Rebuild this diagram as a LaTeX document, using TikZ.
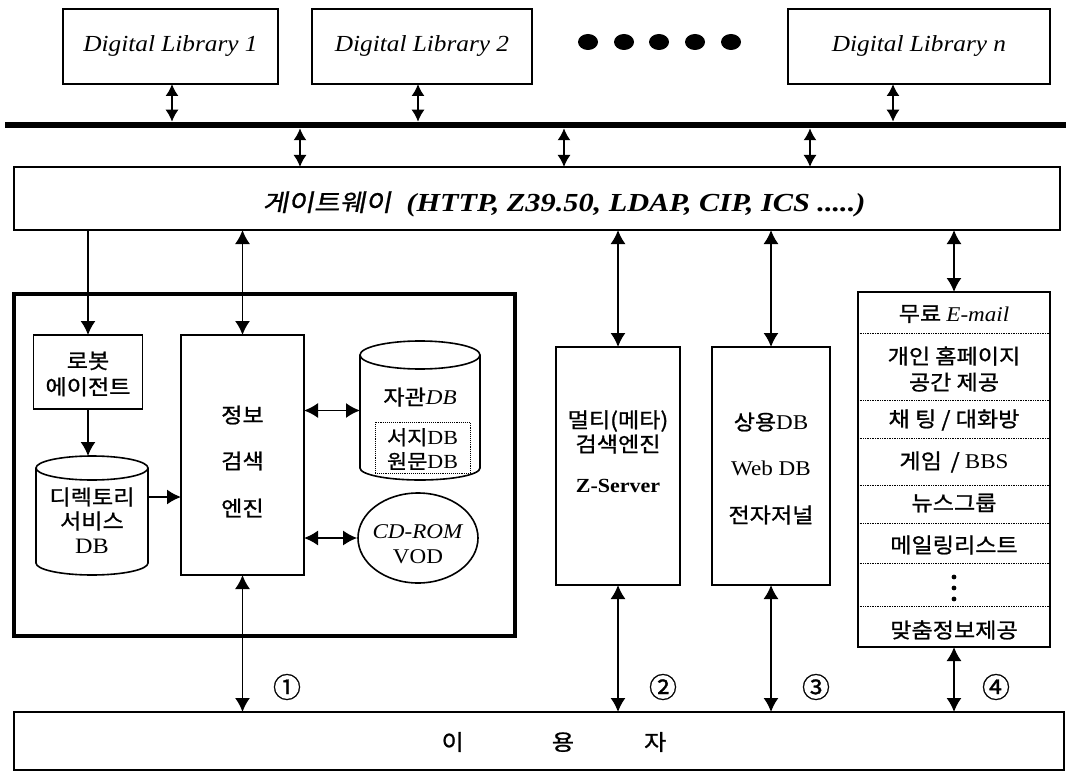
\documentclass[tikz,border=0pt]{standalone}
\usepackage{fontspec}
\setmainfont{Liberation Serif}[FakeStretch=1.1]
\newfontfamily\lat{Liberation Serif}[FakeStretch=1.1]
\newfontfamily\krfont{Noto Sans CJK KR}[FakeStretch=1.1, FakeBold=1]
\newfontfamily\krslant{Noto Sans CJK KR}[FakeSlant=0.18, FakeStretch=1.1, FakeBold=1]
\newfontfamily\numfont{Noto Sans CJK KR}[FakeBold=1]
\usetikzlibrary{arrows.meta,shapes.geometric}
\tikzset{
  box/.style={draw, line width=1.6pt, inner sep=0pt, outer sep=0pt},
  bigbox/.style={draw, line width=3.8pt, inner sep=0pt, outer sep=0pt},
  hidden/.style={inner sep=0pt, outer sep=0pt},
  biarrow/.style={line width=1.7pt, {Latex[length=14pt,width=15pt]}-{Latex[length=14pt,width=15pt]}},
  smallbi/.style={line width=1.7pt, {Latex[length=12pt,width=13pt]}-{Latex[length=12pt,width=13pt]}},
  sarrow/.style={line width=1.7pt, -{Latex[length=14pt,width=15pt]}},
  divider/.style={densely dotted, line width=0.7pt},
  krtext/.style={font=\krfont\fontsize{21pt}{26pt}\selectfont, align=center, inner sep=0pt},
  serif/.style={font=\fontsize{22pt}{25pt}\selectfont, inner sep=0pt},
  dltext/.style={font=\itshape\fontsize{23pt}{25pt}\selectfont},
  numtext/.style={font=\numfont\fontsize{28pt}{28pt}\selectfont, inner sep=0pt}
}
\begin{document}
\begin{tikzpicture}[x=1pt,y=1pt]
\useasboundingbox (0,0) rectangle (1066,-773);

% digital libraries
\node[box, minimum width=215pt, minimum height=75pt, dltext] (dl1) at (170.5,-46.5) {Digital Library 1};
\node[box, minimum width=220pt, minimum height=75pt, dltext] (dl2) at (422,-46.5) {Digital Library 2};
\node[box, minimum width=262pt, minimum height=75pt, dltext] (dln) at (919,-46.5) {Digital Library n};
\foreach \x in {588,624,659,695,731} \fill (\x,-42) ellipse[x radius=10, y radius=8];

% bus
\node[fill=black, hidden, minimum width=1061pt, minimum height=6.5pt] (bus) at (535.5,-125) {};
\coordinate (a1) at (172,0);
\coordinate (a2) at (418,0);
\coordinate (a3) at (893,0);
\draw[smallbi] (dl1.south -| a1) -- (bus.north -| a1);
\draw[smallbi] (dl2.south -| a2) -- (bus.north -| a2);
\draw[smallbi] (dln.south -| a3) -- (bus.north -| a3);

% gateway
\node[box, minimum width=1046pt, minimum height=63pt] (gw) at (537,-198.5) {};
\node[font=\fontsize{26pt}{28pt}\selectfont, inner sep=0pt] (gwt) at (564,-204)
  {\scalebox{1.06}[1]{{\krslant\fontsize{24pt}{28pt}\selectfont 게이트웨이}\ \ \textbf{\textit{(HTTP, Z39.50, LDAP, CIP, ICS .....)}}}};
\coordinate (g1) at (300,0);
\coordinate (g2) at (564,0);
\coordinate (g3) at (810,0);
\draw[smallbi] (bus.south -| g1) -- (gw.north -| g1);
\draw[smallbi] (bus.south -| g2) -- (gw.north -| g2);
\draw[smallbi] (bus.south -| g3) -- (gw.north -| g3);

% left big box
\node[bigbox, minimum width=501pt, minimum height=342pt] (lib) at (264.5,-465) {};
\node[box, minimum width=109pt, minimum height=74pt] (robot) at (88,-372) {};
\node[krtext] (robott) at (88,-374) {로봇\\에이전트};
\node[box, minimum width=123pt, minimum height=240pt] (engine) at (242.5,-455) {};
\node[krtext] (eng1) at (242.5,-415) {정보};
\node[krtext] (eng2) at (242.5,-461) {검색};
\node[krtext] (eng3) at (242.5,-508) {엔진};

% directory cylinder
\node[hidden, minimum width=112pt, minimum height=119pt] (dir) at (92,-515.5) {};
\draw[line width=1.6pt] (92,-468) ellipse[x radius=56, y radius=12];
\draw[line width=1.6pt] (36,-468) -- (36,-563) arc[start angle=180, end angle=360, x radius=56, y radius=12] -- (148,-468);
\node[krtext] (dir1) at (92,-497) {디렉토리};
\node[krtext] (dir2) at (92,-521) {서비스};
\node[serif] (dir3) at (92,-546) {DB};

% jagwan DB cylinder
\node[hidden, minimum width=120pt, minimum height=139pt] (jg) at (420,-410.5) {};
\draw[line width=1.6pt] (420,-355) ellipse[x radius=60, y radius=14];
\draw[line width=1.6pt] (360,-355) -- (360,-468) arc[start angle=180, end angle=360, x radius=60, y radius=12] -- (480,-355);
\node[krtext] (jgt) at (420,-397) {자관{\lat\itshape DB}};
\node[draw, densely dotted, line width=0.9pt, minimum width=95pt, minimum height=51pt, inner sep=0pt] (inner) at (422.5,-447.5) {};
\node[krtext, font=\krfont\fontsize{20pt}{24pt}\selectfont] (innert) at (422.5,-449)
  {서지{\lat DB}\\원문{\lat DB}};

% CD-ROM
\node[draw, ellipse, line width=1.6pt, minimum width=120pt, minimum height=90pt, inner sep=0pt] (cd) at (418,-538) {};
\node[align=center, inner sep=0pt, font=\fontsize{21pt}{25pt}\selectfont] (cdt) at (418,-544) {\textit{CD-ROM}\\VOD};

\coordinate (ydir) at (0,-497);
\draw[sarrow] (gw.south -| robot.north) -- (robot.north);
\draw[biarrow] (gw.south -| engine.north) -- (engine.north);
\draw[sarrow] (robot.south) -- (robot.south |- dir.north);
\draw[sarrow] (dir.east |- ydir) -- (engine.west |- ydir);
\draw[biarrow] (engine.east |- jg.west) -- (jg.west);
\draw[biarrow] (engine.east |- cd.west) -- (cd.west);

% multi search engine
\node[box, minimum width=124pt, minimum height=238pt] (multi) at (618,-466) {};
\node[krtext] (mul1) at (618,-421) {멀티(메타)};
\node[krtext] (mul2) at (618,-444) {검색엔진};
\node[inner sep=0pt, font=\bfseries\fontsize{20pt}{24pt}\selectfont] (mul3) at (618,-486) {Z-Server};

% commercial DB
\node[box, minimum width=118pt, minimum height=238pt] (comm) at (771,-466) {};
\node[krtext] (com1) at (771,-422) {상용{\lat DB}};
\node[inner sep=0pt, font=\fontsize{21pt}{24pt}\selectfont] (com2) at (771,-468) {Web DB};
\node[krtext] (com3) at (771,-515) {전자저널};

% services column
\node[box, minimum width=192pt, minimum height=355pt] (svc) at (954,-469.5) {};
\foreach \y in {333,400,438,485,523,563,606}
  \draw[divider] (858,-\y) -- (1050,-\y);
\node[krtext] (s1) at (954,-314) {무료 {\lat\itshape E-mail}};
\node[krtext] (s2) at (954,-369) {개인 홈페이지\\공간 제공};
\node[krtext] (s3) at (954,-420) {채 팅 / 대화방};
\node[krtext] (s4) at (954,-462) {게임 \,/ {\lat BBS}};
\node[krtext] (s5) at (954,-503) {뉴스그룹};
\node[krtext] (s6) at (954,-545) {메일링리스트};
\foreach \y in {577,588,599} \fill (954,-\y) circle[radius=2.4];
\node[krtext] (s7) at (954,-630) {맞춤정보제공};

\draw[biarrow] (gw.south -| multi.north) -- (multi.north);
\draw[biarrow] (gw.south -| comm.north) -- (comm.north);
\draw[biarrow] (gw.south -| svc.north) -- (svc.north);

% user
\node[box, minimum width=1050pt, minimum height=58pt] (user) at (539,-741) {};
\node[krtext, font=\krfont\fontsize{22pt}{26pt}\selectfont] (usert) at (554,-742) {이\hspace{88pt}용\hspace{70pt}자};

\draw[biarrow] (engine.south) -- (user.north -| engine.south);
\draw[biarrow] (multi.south) -- (user.north -| multi.south);
\draw[biarrow] (comm.south) -- (user.north -| comm.south);
\draw[biarrow] (svc.south) -- (user.north -| svc.south);

\node[numtext] (n1) at (287,-687) {①};
\node[numtext] (n2) at (663,-687) {②};
\node[numtext] (n3) at (816,-687) {③};
\node[numtext] (n4) at (996,-687) {④};
\end{tikzpicture}
\end{document}
